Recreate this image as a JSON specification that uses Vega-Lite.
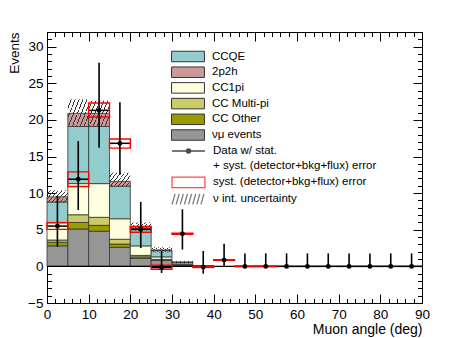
{
  "$schema": "https://vega.github.io/schema/vega-lite/v6.json",
  "width": 375,
  "height": 271,
  "autosize": "none",
  "padding": {"left": 47, "top": 32, "right": 47, "bottom": 35},
  "background": "white",
  "config": {
    "view": {"stroke": null},
    "font": "Liberation Sans",
    "axis": {
      "grid": false,
      "domainColor": "black",
      "domainWidth": 1,
      "tickColor": "black",
      "tickWidth": 1,
      "labelFont": "Liberation Sans",
      "labelFontSize": 13.5,
      "labelColor": "black",
      "labelOverlap": false,
      "labelFlush": false,
      "titleFont": "Liberation Sans",
      "titleFontSize": 14,
      "titleFontWeight": "normal",
      "titleColor": "black"
    },
    "legend": {
      "orient": "none",
      "title": null,
      "padding": 0,
      "rowPadding": 0.7,
      "symbolSize": 196,
      "symbolOffset": 9.5,
      "labelOffset": 16.5,
      "labelFont": "Liberation Sans",
      "labelFontSize": 11.5,
      "labelColor": "black",
      "labelLimit": 400
    }
  },
  "datasets": {
    "mc": [
      {"lo": 0, "hi": 5, "comp": "νμ events", "ord": 1, "n": 2.8},
      {"lo": 0, "hi": 5, "comp": "CC Other", "ord": 2, "n": 0.5},
      {"lo": 0, "hi": 5, "comp": "CC Multi-pi", "ord": 3, "n": 0.3},
      {"lo": 0, "hi": 5, "comp": "CC1pi", "ord": 4, "n": 2.4},
      {"lo": 0, "hi": 5, "comp": "CCQE", "ord": 5, "n": 2.8},
      {"lo": 0, "hi": 5, "comp": "2p2h", "ord": 6, "n": 0.7},
      {"lo": 5, "hi": 10, "comp": "νμ events", "ord": 1, "n": 5.1},
      {"lo": 5, "hi": 10, "comp": "CC Other", "ord": 2, "n": 0.9},
      {"lo": 5, "hi": 10, "comp": "CC Multi-pi", "ord": 3, "n": 1.05},
      {"lo": 5, "hi": 10, "comp": "CC1pi", "ord": 4, "n": 4.25},
      {"lo": 5, "hi": 10, "comp": "CCQE", "ord": 5, "n": 7.8},
      {"lo": 5, "hi": 10, "comp": "2p2h", "ord": 6, "n": 1.8},
      {"lo": 10, "hi": 15, "comp": "νμ events", "ord": 1, "n": 4.8},
      {"lo": 10, "hi": 15, "comp": "CC Other", "ord": 2, "n": 0.8},
      {"lo": 10, "hi": 15, "comp": "CC Multi-pi", "ord": 3, "n": 1.1},
      {"lo": 10, "hi": 15, "comp": "CC1pi", "ord": 4, "n": 4.6},
      {"lo": 10, "hi": 15, "comp": "CCQE", "ord": 5, "n": 7.8},
      {"lo": 10, "hi": 15, "comp": "2p2h", "ord": 6, "n": 1.8},
      {"lo": 15, "hi": 20, "comp": "νμ events", "ord": 1, "n": 2.6},
      {"lo": 15, "hi": 20, "comp": "CC Other", "ord": 2, "n": 0.45},
      {"lo": 15, "hi": 20, "comp": "CC Multi-pi", "ord": 3, "n": 0.65},
      {"lo": 15, "hi": 20, "comp": "CC1pi", "ord": 4, "n": 2.8},
      {"lo": 15, "hi": 20, "comp": "CCQE", "ord": 5, "n": 4.45},
      {"lo": 15, "hi": 20, "comp": "2p2h", "ord": 6, "n": 0.65},
      {"lo": 20, "hi": 25, "comp": "νμ events", "ord": 1, "n": 1.1},
      {"lo": 20, "hi": 25, "comp": "CC Other", "ord": 2, "n": 0.2},
      {"lo": 20, "hi": 25, "comp": "CC Multi-pi", "ord": 3, "n": 0.2},
      {"lo": 20, "hi": 25, "comp": "CC1pi", "ord": 4, "n": 1.3},
      {"lo": 20, "hi": 25, "comp": "CCQE", "ord": 5, "n": 2.4},
      {"lo": 20, "hi": 25, "comp": "2p2h", "ord": 6, "n": 0.25},
      {"lo": 25, "hi": 30, "comp": "νμ events", "ord": 1, "n": 0.85},
      {"lo": 25, "hi": 30, "comp": "CC Other", "ord": 2, "n": 0.05},
      {"lo": 25, "hi": 30, "comp": "CC Multi-pi", "ord": 3, "n": 0.05},
      {"lo": 25, "hi": 30, "comp": "CC1pi", "ord": 4, "n": 0.35},
      {"lo": 25, "hi": 30, "comp": "CCQE", "ord": 5, "n": 0.85},
      {"lo": 25, "hi": 30, "comp": "2p2h", "ord": 6, "n": 0.1},
      {"lo": 30, "hi": 35, "comp": "νμ events", "ord": 1, "n": 0.15},
      {"lo": 30, "hi": 35, "comp": "CC Other", "ord": 2, "n": 0.03},
      {"lo": 30, "hi": 35, "comp": "CC Multi-pi", "ord": 3, "n": 0.02},
      {"lo": 30, "hi": 35, "comp": "CC1pi", "ord": 4, "n": 0.1},
      {"lo": 30, "hi": 35, "comp": "CCQE", "ord": 5, "n": 0.25},
      {"lo": 30, "hi": 35, "comp": "2p2h", "ord": 6, "n": 0.03},
      {"lo": 35, "hi": 40, "comp": "νμ events", "ord": 1, "n": 0.04},
      {"lo": 35, "hi": 40, "comp": "CCQE", "ord": 5, "n": 0.03}
    ],
    "hatch": [
      {"lo": 0, "hi": 5, "lower": 8.7, "upper": 10.4},
      {"lo": 5, "hi": 10, "lower": 19.2, "upper": 22.8},
      {"lo": 10, "hi": 15, "lower": 19.2, "upper": 22.6},
      {"lo": 15, "hi": 20, "lower": 10.9, "upper": 12.8},
      {"lo": 20, "hi": 25, "lower": 4.9, "upper": 6.0},
      {"lo": 25, "hi": 30, "lower": 1.9, "upper": 2.6},
      {"lo": 30, "hi": 35, "lower": 0.4, "upper": 0.75}
    ],
    "obs": [
      {"lo": 0, "hi": 5, "angle": 2.5, "val": 5.5, "elo": 2.7, "ehi": 9.6, "slo": 5.05, "shi": 5.95},
      {"lo": 5, "hi": 10, "angle": 7.5, "val": 11.9, "elo": 7.7, "ehi": 17.1, "slo": 10.9, "shi": 12.9},
      {"lo": 10, "hi": 15, "angle": 12.5, "val": 21.3, "elo": 16.2, "ehi": 27.8, "slo": 20.4, "shi": 22.3},
      {"lo": 15, "hi": 20, "angle": 17.5, "val": 16.8, "elo": 12.5, "ehi": 22.4, "slo": 16.15, "shi": 17.4},
      {"lo": 20, "hi": 25, "angle": 22.5, "val": 5.05, "elo": 2.5, "ehi": 8.8, "slo": 4.65, "shi": 5.45},
      {"lo": 25, "hi": 30, "angle": 27.5, "val": -0.15, "elo": -0.9, "ehi": 2.1, "slo": -0.4, "shi": 0.15},
      {"lo": 30, "hi": 35, "angle": 32.5, "val": 4.45, "elo": 2.3, "ehi": 7.8, "slo": 4.38, "shi": 4.52},
      {"lo": 35, "hi": 40, "angle": 37.5, "val": -0.1, "elo": -1.0, "ehi": 2.1, "slo": -0.15, "shi": -0.05},
      {"lo": 40, "hi": 45, "angle": 42.5, "val": 0.86, "elo": -0.1, "ehi": 3.1, "slo": 0.82, "shi": 0.9},
      {"lo": 45, "hi": 50, "angle": 47.5, "val": 0, "elo": 0, "ehi": 1.77, "slo": -0.03, "shi": 0.03},
      {"lo": 50, "hi": 55, "angle": 52.5, "val": 0, "elo": 0, "ehi": 1.77, "slo": -0.03, "shi": 0.03},
      {"lo": 55, "hi": 60, "angle": 57.5, "val": 0, "elo": 0, "ehi": 1.77, "slo": null, "shi": null},
      {"lo": 60, "hi": 65, "angle": 62.5, "val": 0, "elo": 0, "ehi": 1.77, "slo": null, "shi": null},
      {"lo": 65, "hi": 70, "angle": 67.5, "val": 0, "elo": 0, "ehi": 1.77, "slo": null, "shi": null},
      {"lo": 70, "hi": 75, "angle": 72.5, "val": 0, "elo": 0, "ehi": 1.77, "slo": null, "shi": null},
      {"lo": 75, "hi": 80, "angle": 77.5, "val": 0, "elo": 0, "ehi": 1.77, "slo": null, "shi": null},
      {"lo": 80, "hi": 85, "angle": 82.5, "val": 0, "elo": 0, "ehi": 1.77, "slo": null, "shi": null},
      {"lo": 85, "hi": 90, "angle": 87.5, "val": 0, "elo": 0, "ehi": 1.77, "slo": null, "shi": null}
    ]
  },
  "layer": [
    {
      "data": {"name": "mc"},
      "transform": [
        {"stack": "n", "groupby": ["lo"], "sort": [{"field": "ord", "order": "ascending"}], "as": ["y0", "y1"]}
      ],
      "mark": {"type": "rect", "stroke": "#333333", "strokeWidth": 0.8},
      "encoding": {
        "x": {
          "field": "lo", "type": "quantitative",
          "scale": {"domain": [0, 90], "nice": false, "zero": false},
          "axis": {
            "orient": "bottom",
            "values": [0,2,4,6,8,10,12,14,16,18,20,22,24,26,28,30,32,34,36,38,40,42,44,46,48,50,52,54,56,58,60,62,64,66,68,70,72,74,76,78,80,82,84,86,88,90],
            "tickSize": {"condition": {"test": "datum.value % 10 === 0", "value": -9}, "value": -4.5},
            "labelExpr": "datum.value % 10 === 0 ? datum.label : ''",
            "labelPadding": 13,
            "labelBaseline": "top",
            "title": "Muon angle (deg)",
            "titleAnchor": "end",
            "titleAlign": "right",
            "titleBaseline": "alphabetic",
            "titleX": 375,
            "titleY": 30
          }
        },
        "x2": {"field": "hi"},
        "y": {
          "field": "y0", "type": "quantitative",
          "scale": {"domain": [-5, 32], "nice": false, "zero": false},
          "axis": {
            "orient": "left",
            "values": [-5,-4,-3,-2,-1,0,1,2,3,4,5,6,7,8,9,10,11,12,13,14,15,16,17,18,19,20,21,22,23,24,25,26,27,28,29,30,31,32],
            "tickSize": {"condition": {"test": "datum.value % 5 === 0", "value": -9}, "value": -4.5},
            "labelExpr": "datum.value % 5 === 0 ? datum.label : ''",
            "labelPadding": 13,
            "title": "Events",
            "titleFontSize": 13.5,
            "titleAngle": -90,
            "titleAnchor": "end",
            "titleAlign": "right",
            "titleBaseline": "alphabetic",
            "titleX": -28.5,
            "titleY": 0
          }
        },
        "y2": {"field": "y1"},
        "color": {
          "field": "comp", "type": "nominal",
          "scale": {
            "domain": ["CCQE", "2p2h", "CC1pi", "CC Multi-pi", "CC Other", "νμ events"],
            "range": ["#93cccc", "#cc9999", "#ffffe0", "#cccc66", "#9b9b00", "#969696"]
          },
          "legend": {
            "legendX": 124,
            "legendY": 17,
            "symbolType": "M-2.35,-0.75L2.35,-0.75L2.35,0.75L-2.35,0.75Z",
            "symbolStrokeColor": "#333333",
            "symbolStrokeWidth": 1
          }
        }
      }
    },
    {
      "data": {"name": "hatch"},
      "mark": {
        "type": "rect",
        "strokeWidth": 0,
        "fill": {
          "gradient": "linear", "x1": 0, "y1": 0, "x2": 1.2, "y2": 0.6,
          "stops": [
            {"offset": 0, "color": "rgba(51,51,51,0)"}, {"offset": 0.095, "color": "rgba(51,51,51,0)"}, {"offset": 0.095, "color": "#333333"}, {"offset": 0.125, "color": "#333333"},
            {"offset": 0.125, "color": "rgba(51,51,51,0)"}, {"offset": 0.22, "color": "rgba(51,51,51,0)"}, {"offset": 0.22, "color": "#333333"}, {"offset": 0.25, "color": "#333333"},
            {"offset": 0.25, "color": "rgba(51,51,51,0)"}, {"offset": 0.345, "color": "rgba(51,51,51,0)"}, {"offset": 0.345, "color": "#333333"}, {"offset": 0.375, "color": "#333333"},
            {"offset": 0.375, "color": "rgba(51,51,51,0)"}, {"offset": 0.47, "color": "rgba(51,51,51,0)"}, {"offset": 0.47, "color": "#333333"}, {"offset": 0.5, "color": "#333333"},
            {"offset": 0.5, "color": "rgba(51,51,51,0)"}, {"offset": 0.595, "color": "rgba(51,51,51,0)"}, {"offset": 0.595, "color": "#333333"}, {"offset": 0.625, "color": "#333333"},
            {"offset": 0.625, "color": "rgba(51,51,51,0)"}, {"offset": 0.72, "color": "rgba(51,51,51,0)"}, {"offset": 0.72, "color": "#333333"}, {"offset": 0.75, "color": "#333333"},
            {"offset": 0.75, "color": "rgba(51,51,51,0)"}, {"offset": 0.845, "color": "rgba(51,51,51,0)"}, {"offset": 0.845, "color": "#333333"}, {"offset": 0.875, "color": "#333333"},
            {"offset": 0.875, "color": "rgba(51,51,51,0)"}, {"offset": 0.97, "color": "rgba(51,51,51,0)"}, {"offset": 0.97, "color": "#333333"}, {"offset": 1, "color": "#333333"}
          ]
        }
      },
      "encoding": {
        "x": {
          "field": "lo", "type": "quantitative",
          "scale": {"domain": [0, 90], "nice": false, "zero": false},
          "axis": {
            "orient": "top",
            "values": [0,2,4,6,8,10,12,14,16,18,20,22,24,26,28,30,32,34,36,38,40,42,44,46,48,50,52,54,56,58,60,62,64,66,68,70,72,74,76,78,80,82,84,86,88,90],
            "tickSize": {"condition": {"test": "datum.value % 10 === 0", "value": -9}, "value": -4.5},
            "labels": false,
            "title": null
          }
        },
        "x2": {"field": "hi"},
        "y": {
          "field": "lower", "type": "quantitative",
          "scale": {"domain": [-5, 32], "nice": false, "zero": false},
          "axis": {
            "orient": "right",
            "values": [-5,-4,-3,-2,-1,0,1,2,3,4,5,6,7,8,9,10,11,12,13,14,15,16,17,18,19,20,21,22,23,24,25,26,27,28,29,30,31,32],
            "tickSize": {"condition": {"test": "datum.value % 5 === 0", "value": -9}, "value": -4.5},
            "labels": false,
            "title": null
          }
        },
        "y2": {"field": "upper"}
      }
    },
    {
      "data": {"values": [{"level": 0}]},
      "mark": {"type": "rule", "color": "black", "strokeWidth": 1.2},
      "encoding": {
        "y": {"field": "level", "type": "quantitative", "axis": null}
      }
    },
    {
      "data": {"name": "obs"},
      "mark": {"type": "rule", "color": "black", "strokeWidth": 1.5},
      "encoding": {
        "x": {"field": "lo", "type": "quantitative", "axis": null},
        "x2": {"field": "hi"},
        "y": {"field": "val", "type": "quantitative", "axis": null}
      }
    },
    {
      "data": {"name": "obs"},
      "mark": {"type": "rect", "fillOpacity": 0, "stroke": "#ff0000", "strokeWidth": 1.4},
      "encoding": {
        "x": {"field": "lo", "type": "quantitative", "axis": null},
        "x2": {"field": "hi"},
        "y": {"field": "slo", "type": "quantitative", "axis": null},
        "y2": {"field": "shi"}
      }
    },
    {
      "data": {"name": "obs"},
      "mark": {"type": "rule", "color": "black", "strokeWidth": 1.6},
      "encoding": {
        "x": {"field": "angle", "type": "quantitative", "axis": null},
        "y": {"field": "elo", "type": "quantitative", "axis": null},
        "y2": {"field": "ehi"}
      }
    },
    {
      "data": {"name": "obs"},
      "mark": {"type": "point", "filled": true, "color": "black", "size": 24, "opacity": 1},
      "encoding": {
        "x": {"field": "angle", "type": "quantitative", "axis": null},
        "y": {"field": "val", "type": "quantitative", "axis": null}
      }
    },
    {
      "data": {"values": []},
      "mark": {"type": "point", "filled": false},
      "encoding": {
        "shape": {
          "field": "kind", "type": "nominal",
          "scale": {
            "domain": ["Data w/ stat.", "+ syst. (detector+bkg+flux) error", "syst. (detector+bkg+flux) error", "ν int. uncertainty"],
            "range": [
              "M-2.35,0L2.35,0M-0.3,0A0.3,0.3 0 1,0 0.3,0A0.3,0.3 0 1,0 -0.3,0ZM-0.15,0A0.15,0.15 0 1,0 0.15,0A0.15,0.15 0 1,0 -0.15,0ZM-0.05,0A0.05,0.05 0 1,0 0.05,0A0.05,0.05 0 1,0 -0.05,0Z",
              "M-2.35,-0.75L2.35,-0.75L2.35,0.75L-2.35,0.75Z",
              "M-2.35,-0.75L2.35,-0.75L2.35,0.75L-2.35,0.75Z",
              "M-2.35,0.75L-1.92,-0.75M-1.76,0.75L-1.33,-0.75M-1.17,0.75L-0.74,-0.75M-0.58,0.75L-0.15,-0.75M0.01,0.75L0.44,-0.75M0.6,0.75L1.03,-0.75M1.19,0.75L1.62,-0.75M1.78,0.75L2.21,-0.75"
            ]
          },
          "legend": {
            "legendX": 124,
            "legendY": 111,
            "symbolFillColor": "transparent",
            "symbolStrokeWidth": 1.3
          }
        },
        "stroke": {
          "field": "kind", "type": "nominal",
          "scale": {
            "domain": ["Data w/ stat.", "+ syst. (detector+bkg+flux) error", "syst. (detector+bkg+flux) error", "ν int. uncertainty"],
            "range": ["#000000", "transparent", "#ff0000", "#444444"]
          },
          "legend": {
            "legendX": 124,
            "legendY": 111,
            "symbolFillColor": "transparent",
            "symbolStrokeWidth": 1.3
          }
        }
      }
    }
  ],
  "resolve": {"axis": {"x": "independent", "y": "independent"}}
}
